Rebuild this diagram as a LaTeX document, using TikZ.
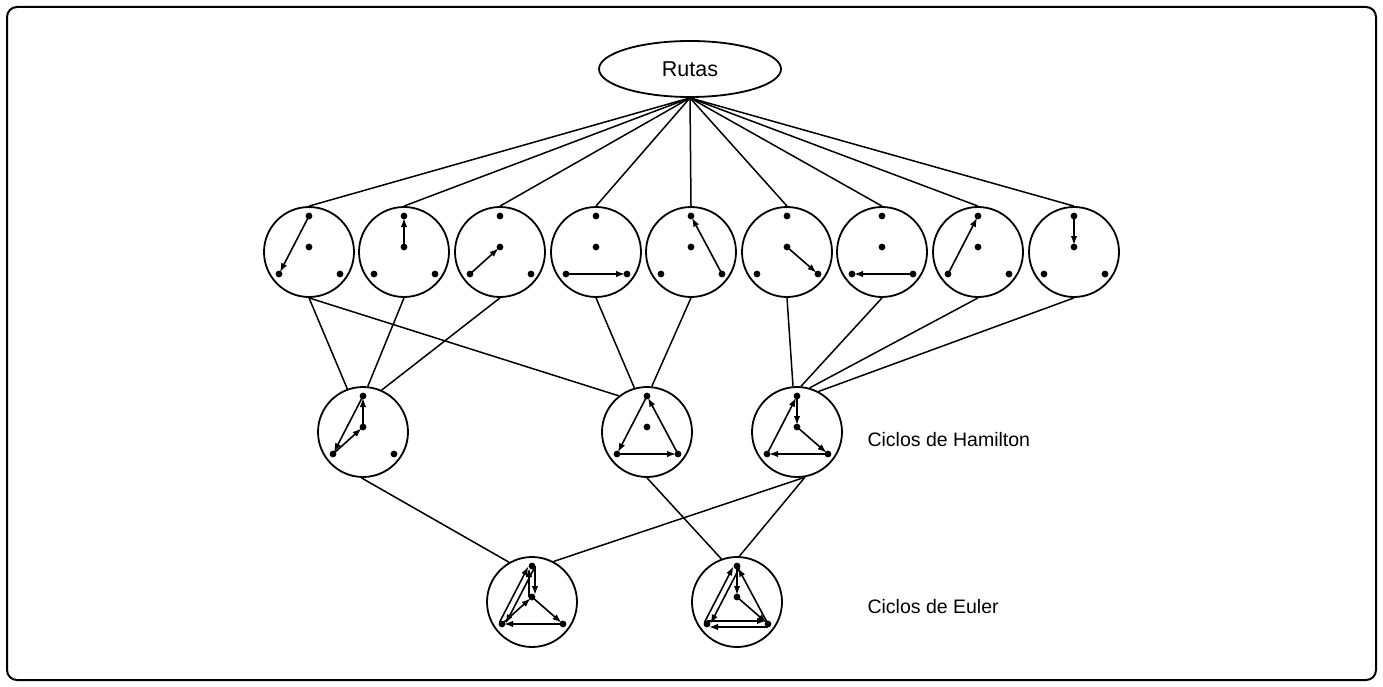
\documentclass[tikz,border=0pt]{standalone}
\usepackage{fontspec}
\setmainfont{Liberation Sans}
\usetikzlibrary{shapes.geometric,arrows.meta,calc}
\tikzset{
  clk/.style={circle, draw, line width=1.8pt, minimum size=90pt, inner sep=0pt},
  conn/.style={line width=1.5pt},
  arr/.style={line width=1.6pt, -{Latex[length=9pt,width=6.5pt]}, shorten >=2pt},
  lbl/.style={anchor=west, font=\fontsize{19.5}{22}\selectfont},
}
\newcommand\mkclock[3]{%
  \node[clk] (#1) at (#2,#3) {};
  \foreach \n/\dx/\dy in {T/0/-36, M/0/-5, L/-30/22, R/31/22}{%
    \fill[shift={(#2,#3)}] (\dx,\dy) coordinate (#1\n) circle (3.4pt);}%
}
\newcommand\offedge[2]{\draw[arr] ($(#1)!3pt!90:(#2)$) -- ($(#2)!3pt!-90:(#1)$);}
\begin{document}
\begin{tikzpicture}[x=1pt,y=-1pt]
\useasboundingbox (0,0) rectangle (1383,687);
\draw[line width=2pt, rounded corners=10pt] (7,7) rectangle (1376,680);

\node[draw, ellipse, line width=1.8pt, minimum width=182pt, minimum height=56pt, inner sep=0pt,
      font=\fontsize{21.5}{24}\selectfont] (rutas) at (690,69) {Rutas};

% top row
\mkclock{c1}{309}{252}
\mkclock{c2}{404}{252}
\mkclock{c3}{500}{252}
\mkclock{c4}{596}{252}
\mkclock{c5}{691}{252}
\mkclock{c6}{787}{252}
\mkclock{c7}{882}{252}
\mkclock{c8}{978}{252}
\mkclock{c9}{1074}{252}

\draw[arr] (c1T) -- (c1L);
\draw[arr] (c2M) -- (c2T);
\draw[arr] (c3L) -- (c3M);
\draw[arr] (c4L) -- (c4R);
\draw[arr] (c5R) -- (c5T);
\draw[arr] (c6M) -- (c6R);
\draw[arr] (c7R) -- (c7L);
\draw[arr] (c8L) -- (c8T);
\draw[arr] (c9T) -- (c9M);

% Hamilton cycles
\mkclock{hA}{363}{432}
\mkclock{hB}{647}{432}
\mkclock{hC}{797}{432}

\draw[arr] (hAT) -- (hAL);
\draw[arr] (hAL) -- (hAM);
\draw[arr] (hAM) -- (hAT);

\draw[arr] (hBT) -- (hBL);
\draw[arr] (hBL) -- (hBR);
\draw[arr] (hBR) -- (hBT);

\draw[arr] (hCT) -- (hCM);
\draw[arr] (hCM) -- (hCR);
\draw[arr] (hCR) -- (hCL);
\draw[arr] (hCL) -- (hCT);

% Euler cycles
\mkclock{eD}{532}{602}
\mkclock{eE}{737}{602}

\offedge{eDT}{eDL}
\offedge{eDL}{eDT}
\offedge{eDM}{eDT}
\offedge{eDT}{eDM}
\draw[arr] (eDL) -- (eDM);
\draw[arr] (eDM) -- (eDR);
\draw[arr] (eDR) -- (eDL);

\offedge{eET}{eEL}
\offedge{eEL}{eET}
\offedge{eEL}{eER}
\offedge{eER}{eEL}
\draw[arr] (eER) -- (eET);
\draw[arr] (eET) -- (eEM);
\draw[arr] (eEM) -- (eER);

% connectors
\foreach \k in {1,...,9}{\draw[conn] (rutas.south) -- (c\k.north);}

\draw[conn] (c1.south) -- (hA.110);
\draw[conn] (c2.south) -- (hA.84);
\draw[conn] (c3.south) -- (hA.66);
\draw[conn] (c1.south) -- (hB.128);
\draw[conn] (c4.south) -- (hB.106);
\draw[conn] (c5.south) -- (hB.84);
\draw[conn] (c6.south) -- (hC.95);
\draw[conn] (c7.south) -- (hC.85);
\draw[conn] (c8.south) -- (hC.74);
\draw[conn] (c9.south) -- (hC.62);

\draw[conn] (hA.268) -- (eD.120);
\draw[conn] (hC.280) -- (eD.62);
\draw[conn] (hB.270) -- (eE.110);
\draw[conn] (hC.280) -- (eE.87);

\node[lbl] (lh) at (864,440) {Ciclos de Hamilton};
\node[lbl] (le) at (864,607) {Ciclos de Euler};
\end{tikzpicture}
\end{document}
